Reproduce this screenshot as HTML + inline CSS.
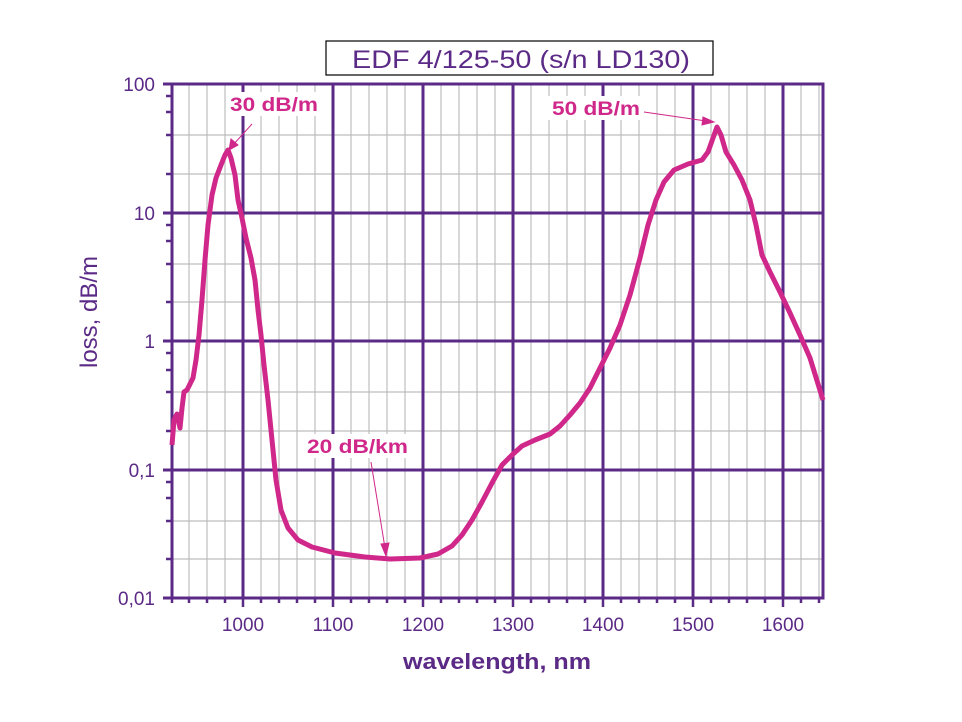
<!DOCTYPE html>
<html><head><meta charset="utf-8"><style>
body{margin:0;background:#fff;}
svg{display:block;font-family:"Liberation Sans",sans-serif;}
</style></head><body>
<svg width="962" height="722" viewBox="0 0 962 722" xmlns="http://www.w3.org/2000/svg">
<rect width="962" height="722" fill="#fff"/>
<g stroke="#bdbdbd" stroke-width="1.2">
<line x1="189" y1="84" x2="189" y2="598"/><line x1="207" y1="84" x2="207" y2="598"/><line x1="225" y1="84" x2="225" y2="598"/>
<line x1="261" y1="84" x2="261" y2="598"/><line x1="279" y1="84" x2="279" y2="598"/><line x1="297" y1="84" x2="297" y2="598"/><line x1="315" y1="84" x2="315" y2="598"/>
<line x1="351" y1="84" x2="351" y2="598"/><line x1="369" y1="84" x2="369" y2="598"/><line x1="387" y1="84" x2="387" y2="598"/><line x1="405" y1="84" x2="405" y2="598"/>
<line x1="441" y1="84" x2="441" y2="598"/><line x1="459" y1="84" x2="459" y2="598"/><line x1="477" y1="84" x2="477" y2="598"/><line x1="495" y1="84" x2="495" y2="598"/>
<line x1="531" y1="84" x2="531" y2="598"/><line x1="549" y1="84" x2="549" y2="598"/><line x1="567" y1="84" x2="567" y2="598"/><line x1="585" y1="84" x2="585" y2="598"/>
<line x1="621" y1="84" x2="621" y2="598"/><line x1="639" y1="84" x2="639" y2="598"/><line x1="657" y1="84" x2="657" y2="598"/><line x1="675" y1="84" x2="675" y2="598"/>
<line x1="711" y1="84" x2="711" y2="598"/><line x1="729" y1="84" x2="729" y2="598"/><line x1="747" y1="84" x2="747" y2="598"/><line x1="765" y1="84" x2="765" y2="598"/>
<line x1="801" y1="84" x2="801" y2="598"/><line x1="819" y1="84" x2="819" y2="598"/>
<line x1="172" y1="135" x2="823" y2="135"/><line x1="172" y1="174" x2="823" y2="174"/>
<line x1="172" y1="264" x2="823" y2="264"/><line x1="172" y1="302" x2="823" y2="302"/>
<line x1="172" y1="392" x2="823" y2="392"/><line x1="172" y1="431" x2="823" y2="431"/>
<line x1="172" y1="521" x2="823" y2="521"/><line x1="172" y1="559" x2="823" y2="559"/>
</g>
<g stroke="#5b2a86" stroke-width="3">
<line x1="243" y1="84" x2="243" y2="598"/><line x1="333" y1="84" x2="333" y2="598"/><line x1="423" y1="84" x2="423" y2="598"/>
<line x1="513" y1="84" x2="513" y2="598"/><line x1="603" y1="84" x2="603" y2="598"/><line x1="693" y1="84" x2="693" y2="598"/><line x1="783" y1="84" x2="783" y2="598"/>
<line x1="163" y1="213" x2="823" y2="213"/><line x1="163" y1="341" x2="823" y2="341"/><line x1="163" y1="470" x2="823" y2="470"/>
<rect x="172" y="84" width="651" height="514" fill="none"/>
<line x1="163" y1="84" x2="172" y2="84"/><line x1="163" y1="598" x2="172" y2="598"/>
</g>
<g stroke="#5b2a86" stroke-width="2.5">
<path d="M166 96h6M166 112h6M166 135h6M166 174h6M166 225h6M166 241h6M166 264h6M166 302h6M166 353h6M166 370h6M166 392h6M166 431h6M166 482h6M166 498h6M166 521h6M166 559h6"/>
<path d="M243 598v9M333 598v9M423 598v9M513 598v9M603 598v9M693 598v9M783 598v9"/>
<path d="M172 598v5M189 598v5M207 598v5M225 598v5M261 598v5M279 598v5M297 598v5M315 598v5M351 598v5M369 598v5M387 598v5M405 598v5M441 598v5M459 598v5M477 598v5M495 598v5M531 598v5M549 598v5M567 598v5M585 598v5M621 598v5M639 598v5M657 598v5M675 598v5M711 598v5M729 598v5M747 598v5M765 598v5M801 598v5M819 598v5"/>
</g>
<g fill="#5b2a86" font-size="19" text-anchor="end">
<text x="155" y="91">100</text><text x="155" y="220">10</text><text x="155" y="348">1</text><text x="155" y="477">0,1</text><text x="155" y="605">0,01</text>
</g>
<g fill="#5b2a86" font-size="19" text-anchor="middle">
<text x="243" y="631">1000</text><text x="333" y="631">1100</text><text x="423" y="631">1200</text><text x="513" y="631">1300</text><text x="603" y="631">1400</text><text x="693" y="631">1500</text><text x="783" y="631">1600</text>
</g>
<text x="403" y="669" fill="#5b2a86" font-size="22" font-weight="bold" textLength="188" lengthAdjust="spacingAndGlyphs">wavelength, nm</text>
<text transform="translate(97,312) rotate(-90)" fill="#5b2a86" font-size="24" text-anchor="middle">loss, dB/m</text>
<rect x="326" y="41" width="387" height="34" fill="#fff" stroke="#000" stroke-width="1.2"/>
<text x="352" y="68" fill="#5b2a86" font-size="25" textLength="338" lengthAdjust="spacingAndGlyphs">EDF 4/125-50 (s/n LD130)</text>
<polyline fill="none" stroke="#d0288a" stroke-width="5" stroke-linejoin="round" points="172,445 174,420 177,414 180,428 182,408 184,392 187,390 190,384 193,378 196,360 199,335 202,300 205,260 208,225 212,195 216,178 221,165 225,155 228,150 231,158 235,175 238,200 242,218 246,238 251,258 255,280 258,310 261,335 264,365 268,400 272,440 276,480 281,510 288,528 298,540 312,547 335,553 365,557 390,559 420,558 438,554 452,546 462,535 472,520 482,502 492,483 502,465 512,455 522,446 535,440 550,434 560,426 570,415 580,403 590,388 600,368 610,348 620,325 630,295 640,258 648,225 656,200 664,182 674,170 688,164 702,160 708,152 713,138 717,127 721,135 726,152 734,165 742,180 750,200 756,225 762,255 770,272 780,292 790,313 800,335 810,358 823,400"/>
<g fill="#d0288a" stroke="#d0288a" stroke-width="1">
<line x1="252" y1="124" x2="233" y2="145"/><path d="M229,150 L231,139 L238,145 Z"/>
<line x1="644" y1="112" x2="706" y2="121"/><path d="M714,122 L703,117 L702,125 Z"/>
<line x1="371" y1="462" x2="385" y2="548"/><path d="M386,556 L381,544 L389,543 Z"/>
</g>
<g font-size="19" font-weight="bold" fill="#d0288a">
<rect x="226" y="92" width="96" height="24" fill="#fff"/><text x="230" y="111" textLength="88" lengthAdjust="spacingAndGlyphs">30 dB/m</text>
<rect x="548" y="96" width="96" height="24" fill="#fff"/><text x="552" y="115" textLength="88" lengthAdjust="spacingAndGlyphs">50 dB/m</text>
<rect x="303" y="434" width="109" height="24" fill="#fff"/><text x="307" y="453" textLength="101" lengthAdjust="spacingAndGlyphs">20 dB/km</text>
</g>
</svg>
</body></html>
